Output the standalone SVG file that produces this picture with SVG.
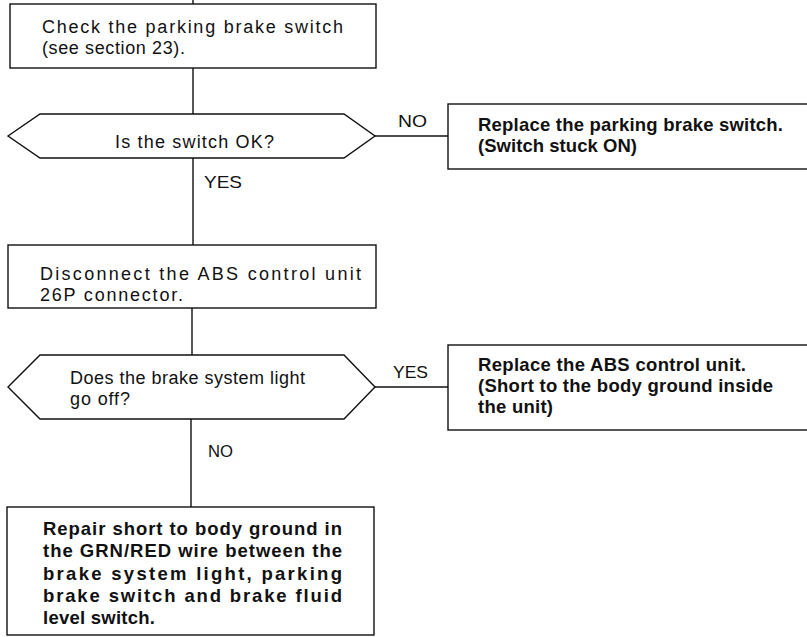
<svg xmlns="http://www.w3.org/2000/svg" width="807" height="637" viewBox="0 0 807 637">
<style>
.box{fill:#fff;stroke:#111;stroke-width:1.4}
.ln{fill:none;stroke:#111;stroke-width:1.4}
.t{font-family:"Liberation Sans",Arial,Helvetica,sans-serif;font-size:18px;fill:#111}
.b{font-weight:bold;font-size:18.5px}
.lb{font-family:"Liberation Sans",Arial,Helvetica,sans-serif;font-size:16.5px;fill:#111}
</style>
<rect width="807" height="637" fill="#fff"/>
<g id="connectors">
<line class="ln" x1="193" y1="0" x2="193" y2="4"/>
<line class="ln" x1="193" y1="68" x2="193" y2="114"/>
<line class="ln" x1="193" y1="158" x2="193" y2="245"/>
<line class="ln" x1="192" y1="308" x2="192" y2="355"/>
<line class="ln" x1="191" y1="419" x2="191" y2="507"/>
<line class="ln" x1="375" y1="136" x2="448" y2="136"/>
<line class="ln" x1="375" y1="387" x2="448" y2="387"/>
<text class="lb" x="398" y="127" textLength="29" lengthAdjust="spacingAndGlyphs">NO</text>
<text class="lb" x="204" y="188" textLength="38" lengthAdjust="spacingAndGlyphs">YES</text>
<text class="lb" x="393" y="378" textLength="35" lengthAdjust="spacingAndGlyphs">YES</text>
<text class="lb" x="208" y="457" textLength="25" lengthAdjust="spacingAndGlyphs">NO</text>
</g>
<g id="n1">
<rect class="box" x="10" y="4" width="366" height="64"/>
<text class="t" x="42" y="33" textLength="301" lengthAdjust="spacing">Check the parking brake switch</text>
<text class="t" x="42" y="54" textLength="143" lengthAdjust="spacing">(see section 23).</text>
</g>
<g id="d1">
<polygon class="box" points="8,136 40,114 344,114 375,136 344,158 40,158"/>
<text class="t" x="115" y="148" textLength="159" lengthAdjust="spacing">Is the switch OK?</text>
</g>
<g id="r1">
<rect class="box" x="448" y="104" width="380" height="65"/>
<text class="t b" x="478" y="131" textLength="305" lengthAdjust="spacing">Replace the parking brake switch.</text>
<text class="t b" x="478" y="152" textLength="159" lengthAdjust="spacing">(Switch stuck ON)</text>
</g>
<g id="n2">
<rect class="box" x="8" y="245" width="368" height="63"/>
<text class="t" x="40" y="280" textLength="321" lengthAdjust="spacing">Disconnect the ABS control unit</text>
<text class="t" x="40" y="301" textLength="143" lengthAdjust="spacing">26P connector.</text>
</g>
<g id="d2">
<polygon class="box" points="8,387 40,355 344,355 375,387 344,419 40,419"/>
<text class="t" x="70" y="384" textLength="235" lengthAdjust="spacing">Does the brake system light</text>
<text class="t" x="70" y="405" textLength="60" lengthAdjust="spacing">go off?</text>
</g>
<g id="r2">
<rect class="box" x="448" y="345" width="380" height="85"/>
<text class="t b" x="478" y="371" textLength="268" lengthAdjust="spacing">Replace the ABS control unit.</text>
<text class="t b" x="478" y="392" textLength="295" lengthAdjust="spacing">(Short to the body ground inside</text>
<text class="t b" x="478" y="413" textLength="75" lengthAdjust="spacing">the unit)</text>
</g>
<g id="n3">
<rect class="box" x="7" y="507" width="367" height="128"/>
<text class="t b" x="43" y="535" textLength="299" lengthAdjust="spacing">Repair short to body ground in</text>
<text class="t b" x="43" y="557" textLength="299" lengthAdjust="spacing">the GRN/RED wire between the</text>
<text class="t b" x="43" y="580" textLength="299" lengthAdjust="spacing">brake system light, parking</text>
<text class="t b" x="43" y="602" textLength="299" lengthAdjust="spacing">brake switch and brake fluid</text>
<text class="t b" x="43" y="624" textLength="112" lengthAdjust="spacing">level switch.</text>
</g>
</svg>
